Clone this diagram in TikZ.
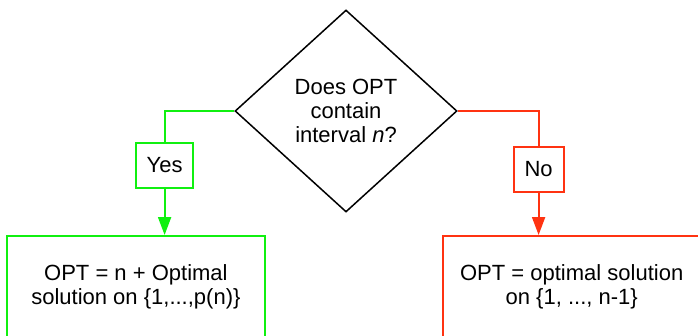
\documentclass[tikz,border=0pt]{standalone}
\usepackage{fontspec}
\setmainfont{Liberation Sans}
\usetikzlibrary{shapes.geometric,arrows.meta}
\definecolor{yesgreen}{RGB}{16,240,16}
\definecolor{nored}{RGB}{255,51,17}
\begin{document}
\begin{tikzpicture}[x=1pt,y=-1pt,
  every node/.style={font=\fontsize{22}{24}\selectfont, align=center, inner sep=0pt},
  decision/.style={draw=black, line width=1.5pt, diamond, minimum width=222pt, minimum height=202pt},
  labelbox/.style={draw, line width=2pt, minimum height=45pt},
  resultbox/.style={draw, line width=2pt, minimum width=258pt, minimum height=102pt, anchor=north},
  link/.style={line width=2pt},
  arrowlink/.style={line width=2pt, -{Triangle[length=18pt,width=13pt]}}]
\useasboundingbox (0,0) rectangle (698,335);
\clip (0,0) rectangle (698,335);
\fill[white] (0,0) rectangle (698,335);
\node[decision] (dia) at (346,111) {Does OPT\\contain\\interval \textit{n}?};
\node[labelbox, draw=yesgreen, minimum width=57pt] (yes) at (164.6,165.5) {Yes};
\node[labelbox, draw=nored, minimum width=50pt] (no) at (538.6,169.5) {No};
\node[resultbox, draw=yesgreen] (gbox) at (135.9,235) {OPT = n + Optimal\\solution on \{1,...,p(n)\}};
\node[resultbox, draw=nored] (rbox) at (571.7,235) {OPT = optimal solution\\on \{1, ..., n-1\}};
\draw[link, yesgreen] (dia.west) -| (yes.north);
\draw[arrowlink, yesgreen] (yes.south) -- (yes.south |- gbox.north);
\draw[link, nored] (dia.east) -| (no.north);
\draw[arrowlink, nored] (no.south) -- (no.south |- rbox.north);
\end{tikzpicture}
\end{document}
